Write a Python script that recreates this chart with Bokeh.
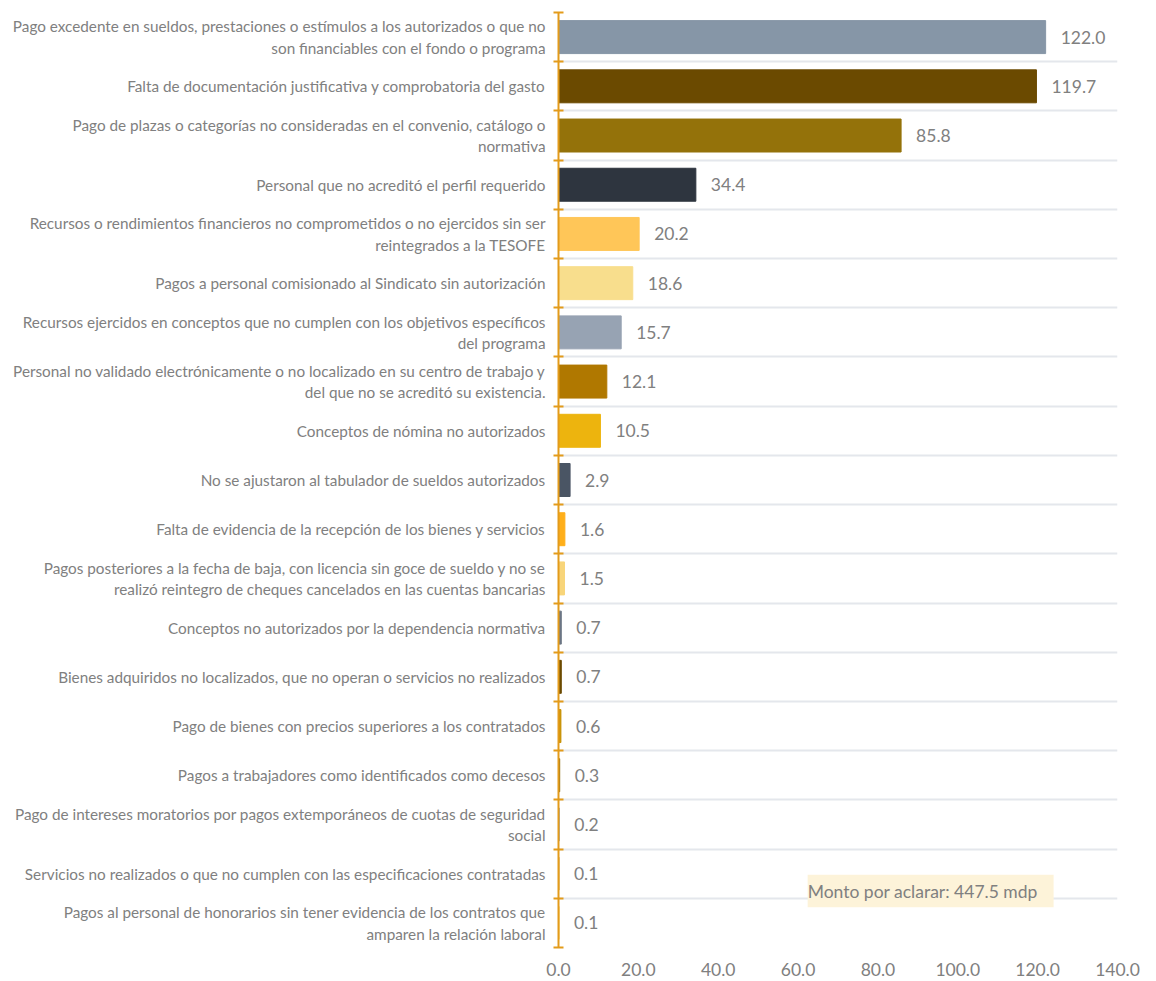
from bokeh.plotting import figure
from bokeh.models import Range1d, FixedTicker, NumeralTickFormatter, Label, BoxAnnotation, ColumnDataSource
from bokeh.core.properties import value
from bokeh.embed import file_html
from bokeh.resources import INLINE

categories = [
    "Pago excedente en sueldos, prestaciones o estímulos a los autorizados o que no\nson financiables con el fondo o programa",
    "Falta de documentación justificativa y comprobatoria del gasto",
    "Pago de plazas o categorías no consideradas en el convenio, catálogo o\nnormativa",
    "Personal que no acreditó el perfil requerido",
    "Recursos o rendimientos financieros no comprometidos o no ejercidos sin ser\nreintegrados a la TESOFE",
    "Pagos a personal comisionado al Sindicato sin autorización",
    "Recursos ejercidos en conceptos que no cumplen con los objetivos específicos\ndel programa",
    "Personal no validado electrónicamente o no localizado en su centro de trabajo y\ndel que no se acreditó su existencia.",
    "Conceptos de nómina no autorizados",
    "No se ajustaron al tabulador de sueldos autorizados",
    "Falta de evidencia de la recepción de los bienes y servicios",
    "Pagos posteriores a la fecha de baja, con licencia sin goce de sueldo y no se\nrealizó reintegro de cheques cancelados en las cuentas bancarias",
    "Conceptos no autorizados por la dependencia normativa",
    "Bienes adquiridos no localizados, que no operan o servicios no realizados",
    "Pago de bienes con precios superiores a los contratados",
    "Pagos a trabajadores como identificados como decesos",
    "Pago de intereses moratorios por pagos extemporáneos de cuotas de seguridad\nsocial",
    "Servicios no realizados o que no cumplen con las especificaciones contratadas",
    "Pagos al personal de honorarios sin tener evidencia de los contratos que\namparen la relación laboral",
]
values = [122.0, 119.7, 85.8, 34.4, 20.2, 18.6, 15.7, 12.1, 10.5, 2.9, 1.6, 1.5, 0.7, 0.7, 0.6, 0.3, 0.2, 0.1, 0.1]
colors = ["#8696A7", "#6B4A00", "#94720A", "#2E353F", "#FFC658", "#F8DE8D", "#97A3B3",
          "#B07800", "#EDB40E", "#4A5564", "#FFAF1A", "#F8D57A", "#6B7685", "#6B4A00",
          "#C89000", "#8C6A0E", "#97A3B3", "#B07800", "#EDB40E"]
x_ticks = [0, 20, 40, 60, 80, 100, 120, 140]
total_text = "Monto por aclarar: 447.5 mdp"

FONT = "Lato"
GRAY = "#808080"
ORANGE = "#E39B1B"

n = len(categories)
pos = list(range(1, n + 1))
src = ColumnDataSource(dict(y=pos, v=values, c=colors, lab=[f"{v:.1f}" for v in values]))

p = figure(frame_width=559, frame_height=935, output_backend="svg", toolbar_location=None,
           x_range=Range1d(0, 140), y_range=Range1d(n + 0.5, 0.5),
           min_border_left=558, min_border_right=31, min_border_top=12, min_border_bottom=30)
p.outline_line_color = None

p.hbar(y="y", right="v", left=0, height=0.67, color="c", source=src)
p.text(x="v", y="y", text="lab", source=src, x_offset=15, text_align="left", text_baseline="middle",
       text_font=value(FONT), text_font_size="17.5px", text_color=GRAY)

# y axis
yt = FixedTicker(ticks=pos, minor_ticks=[i + 0.5 for i in range(0, n + 1)])
p.yaxis.ticker = yt
p.yaxis.major_label_overrides = {i: categories[i - 1] for i in pos}
p.yaxis.major_tick_in = 0
p.yaxis.major_tick_out = 0
p.yaxis.minor_tick_in = 5
p.yaxis.minor_tick_out = 5
p.yaxis.minor_tick_line_color = ORANGE
p.yaxis.minor_tick_line_width = 2
p.yaxis.axis_line_color = ORANGE
p.yaxis.axis_line_width = 2
p.yaxis.major_label_standoff = 8
p.yaxis.major_label_text_font = FONT
p.yaxis.major_label_text_font_size = "15.3px"
p.yaxis.major_label_text_color = GRAY

# x axis
p.xaxis.ticker = FixedTicker(ticks=x_ticks)
p.xaxis.formatter = NumeralTickFormatter(format="0.0")
p.xaxis.axis_line_color = None
p.xaxis.major_tick_line_color = None
p.xaxis.minor_tick_line_color = None
p.xaxis.major_label_standoff = 9
p.xaxis.major_label_text_font = FONT
p.xaxis.major_label_text_font_size = "17.5px"
p.xaxis.major_label_text_color = GRAY

# grids
p.xgrid.grid_line_color = None
p.ygrid.ticker = yt
p.ygrid.grid_line_color = None
p.ygrid.minor_grid_line_color = "#E4E7EC"
p.ygrid.minor_grid_line_width = 2

box = BoxAnnotation(left=62.4, right=124.0, top=18.02, bottom=18.68,
                    fill_color="#FDF3D9", fill_alpha=1.0, line_color=None)
p.add_layout(box)
p.add_layout(Label(x=62.4, y=18.36, text=total_text, text_align="left", text_baseline="middle",
                   text_font=FONT, text_font_size="17.5px", text_color=GRAY))

open("out.html", "w").write(file_html(p, INLINE))
